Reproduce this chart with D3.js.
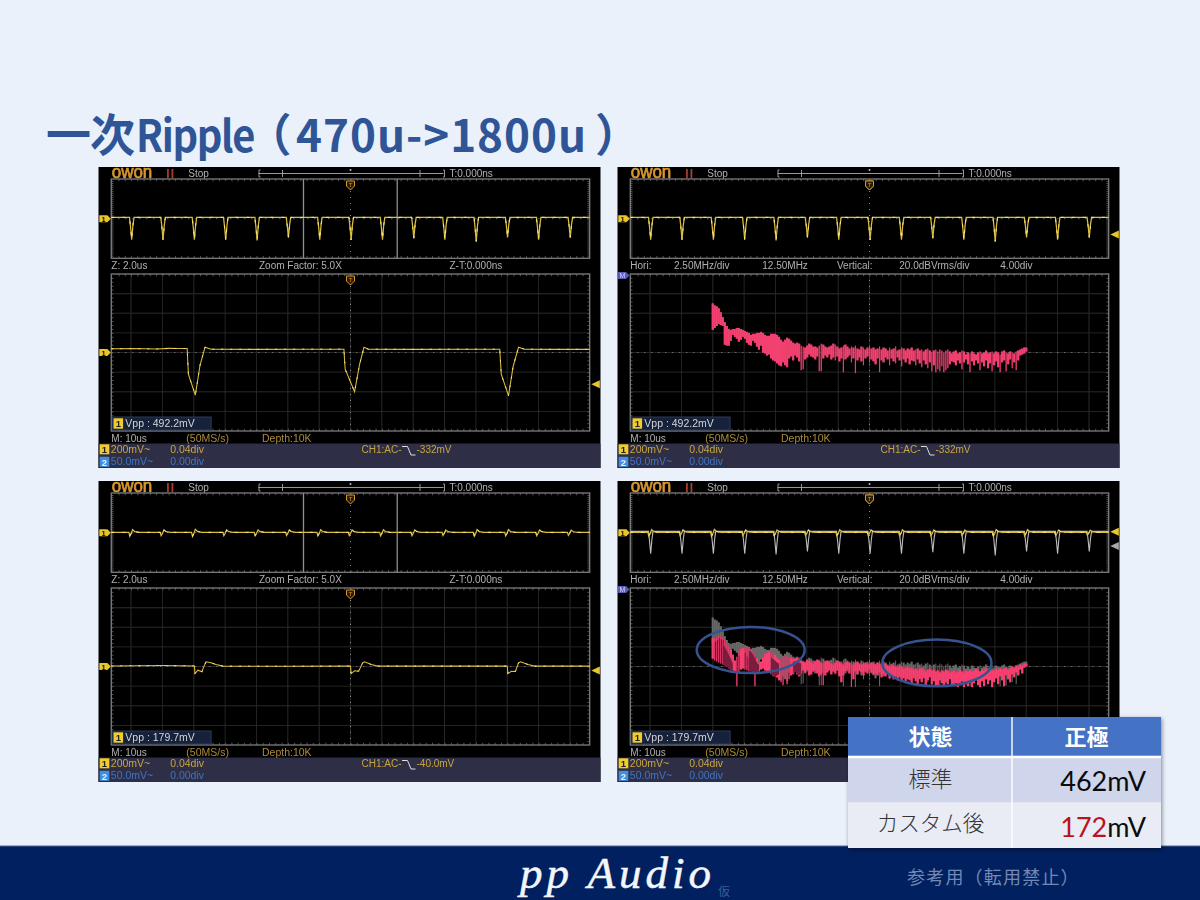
<!DOCTYPE html>
<html lang="ja">
<head>
<meta charset="utf-8">
<title>一次Ripple（470u->1800u）</title>
<script src="https://cdn.jsdelivr.net/npm/d3@7/dist/d3.min.js"></script>
<style>
html,body{margin:0;padding:0;background:#eaf1fb;overflow:hidden}
svg{display:block}
text{font-family:"Liberation Sans",Arial,sans-serif}
.cjk{font-family:"Noto Sans CJK JP",sans-serif}
</style>
</head>
<body>
<svg id="chart" width="1200" height="900" viewBox="0 0 1200 900"></svg>
<script>
// ---- Overview traces (time in div from screen centre, depth in div) ----
const overviewPulseT = [-6.98,-5.98,-4.98,-3.98,-2.98,-1.98,-0.98,0.02,1.02,2.02,3.01,4.01,5.01,6.0,7.01];
const overviewDepthBefore = [-2.13,-2.13,-2.13,-2.13,-2.2,-1.9,-2.13,-2.13,-2.13,-1.97,-2.13,-2.3,-1.9,-2.13,-1.9];
const overviewBlipDip = [-0.35,-0.3,-0.38,-0.3,-0.3,-0.28,-0.32,-0.28,-0.32,-0.3,-0.28,-0.35,-0.33,-0.3,-0.27];
const overviewBaseBefore = 0.13;
const overviewBaseAfter = 0.03;
const pulseShapeDt = [-0.07,-0.035,0,0.04,0.075];
const pulseShapeFrac = [0,0.45,1,0.35,0];
const blipShapeDt = [-0.09,-0.06,-0.02,0.03,0.1,0.24];
const blipShapeFrac = [0,1,0.35,-0.75,-0.2,0];

// ---- Zoomed time traces (time div, level div) ----
const zoomBeforeT = [-7.63,-6.9,-6.2,-5.8,-5.5,-5.21,-5.17,-4.95,-4.80,-4.64,-4.45,-3,-1.5,-0.21,-0.17,0.13,0.29,0.43,0.57,2,4,4.76,4.81,5.04,5.19,5.36,5.55,6.5,7.63];
const zoomBeforeV = [0.19,0.2,0.18,0.21,0.2,0.2,-1.12,-2.17,-0.65,0.27,0.17,0.16,0.17,0.17,-0.85,-2.0,-0.6,0.27,0.17,0.16,0.17,0.17,-1.12,-2.2,-0.7,0.27,0.17,0.16,0.16];
const zoomAfterT = [-7.63,-6,-4.98,-4.96,-4.87,-4.74,-4.68,-4.61,-4.45,-4.29,-4.07,-2,0,0.02,0.13,0.26,0.39,0.45,0.66,0.87,3,5,5.02,5.13,5.26,5.36,5.43,5.66,5.87,7.63];
const zoomAfterV = [0.03,0.05,0.03,-0.36,-0.19,-0.27,-0.02,0.24,0.19,0.1,0.02,0.01,0.02,-0.36,-0.22,-0.24,0.19,0.24,0.1,0.02,0.02,0.02,-0.36,-0.24,-0.25,0.19,0.24,0.1,0.02,0.02];

// ---- FFT traces, 0..25 MHz, upper and lower edge in dB from the centre line ----
const specBeforeHi = [50,48,47,45,41,36,31,27,24,23,
24,24,25,25,24,23,22,21,20,18,
19,19,20,20,21,20,18,17,17,19,
19,19,18,16,13,11,13,15,14,12,
10,9,10,9,7,6,5,7,9,8,
6,6,5,7,9,8,6,5,6,7,
9,8,6,4,5,7,8,6,4,6,
5,7,4,3,6,5,3,5,7,4,
5,3,4,6,3,5,4,2,5,3,
4,6,2,3,5,4,2,4,3,5,
2,3,4,2,3,1,3,4,2,0,
2,3,1,3,2,0,2,3,1,-1,
1,2,-1,0,2,1,-2,0,-1,1,
-1,-2,0,1,-1,0,2,-1,0,1,
-1,1,0,-2,1,2,0,-1,1,0,
-1,1,2,3,4,5,5];
const specBeforeLo = [23,25,27,29,28,27,8,7,7,12,
18,16,14,11,13,16,14,10,8,7,
12,10,6,3,7,0,-1,-3,-2,-6,
-8,-9,-11,-13,-14,-10,-13,-15,-6,-4,
-8,-3,-5,-9,-18,-17,-7,-5,-2,-4,
-5,-7,-4,-19,-19,-6,-3,-5,-2,-7,
-5,-8,-4,-9,-6,-20,-7,-5,-3,-10,
-6,-21,-8,-5,-9,-13,-6,-4,-10,-7,
-9,-12,-6,-20,-8,-10,-5,-7,-13,-6,
-9,-11,-5,-8,-14,-7,-10,-6,-12,-8,
-9,-13,-7,-11,-15,-8,-12,-16,-10,-19,
-13,-20,-17,-19,-14,-20,-18,-16,-12,-9,
-10,-13,-8,-11,-17,-10,-7,-12,-20,-9,
-13,-8,-11,-18,-10,-14,-8,-16,-11,-19,
-13,-9,-15,-20,-10,-8,-19,-12,-7,-16,
-10,-18,-8,-3,-2,-1,1];
const specAfterHi = [29,29,30,31,31,30,27,24,21,17,
12,6,10,16,18,19,20,20,20,18,
16,13,9,4,5,9,13,14,15,15,
14,12,9,7,8,10,11,11,10,9,
8,8,9,8,6,5,4,7,6,5,
3,5,7,6,4,3,5,6,5,3,
2,4,6,5,3,2,4,5,4,3,
2,4,5,3,2,3,4,2,3,4,
3,2,4,3,1,2,3,1,0,2,
1,0,-1,1,0,-2,-1,0,-2,-1,
-3,-2,-4,-2,-1,-3,-5,-3,-2,-4,
-3,-5,-4,-6,-4,-5,-3,-4,-6,-5,
-4,-6,-5,-3,-5,-6,-4,-5,-3,-5,
-4,-2,-4,-5,-3,-4,-2,-3,-5,-3,
-4,-2,-3,-1,-3,-2,-1,-3,-2,0,
-1,1,0,2,1,3,3];
const specAfterLo = [8,6,5,4,3,2,1,0,-2,-3,
-4,-5,-20,-6,-3,-2,-3,-4,-5,-4,
-6,-20,-7,-5,-3,-2,-4,-5,-6,-8,
-10,-9,-11,-14,-16,-19,-12,-18,-13,-9,
-7,-5,-8,-10,-7,-4,-6,-3,-9,-8,
-5,-4,-7,-10,-8,-19,-9,-6,-4,-8,
-5,-7,-4,-10,-16,-9,-5,-3,-7,-21,
-13,-5,-8,-4,-6,-9,-5,-7,-3,-6,
-8,-7,-9,-6,-11,-8,-10,-7,-12,-9,
-13,-10,-14,-11,-15,-12,-16,-13,-14,-17,
-12,-15,-18,-13,-16,-12,-19,-14,-11,-18,
-15,-19,-20,-14,-17,-20,-16,-18,-13,-19,
-20,-17,-21,-19,-15,-21,-18,-20,-16,-21,
-17,-14,-19,-21,-15,-20,-13,-18,-14,-21,
-16,-12,-18,-10,-14,-20,-9,-13,-16,-8,
-11,-6,-9,-3,-7,-1,0];
// darker overlapping sweeps inside the humps (index into the FFT arrays, upper, lower)
const shadeIndex = [5,6,7,8,9,10,null,18,19,20,21,22,23,null,29,30,31,32,33,null,40,41,42,43,44];
const shadeHi = [22,20,16,12,8,3,null,16,15,12,8,4,2,null,9,8,6,4,3,null,5,5,5,4,3];
const shadeLo = [2,1,0,-2,-3,-4,null,-4,-5,-6,-8,-7,-5,null,-8,-9,-11,-9,-8,null,-7,-5,-8,-9,-7];

// ---- Annotation ellipses on the lower-right FFT (div, dB) ----
const ringCx = [-3.79,2.15];
const ringCy = [16.8,3.6];
const ringRx = [1.72,1.74];
const ringRy = [23.5,23.8];

// ---- Table ----
const tableHead = ["状態","正極"];
const tableRows = ["標準","カスタム後"];
const tableValues = ["462","172"];
const tableUnit = "mV";

// ---- Scope read-outs ----
const vppLabels = ["492.2mV","492.2mV","179.7mV","179.7mV"];
const triggerLabels = ["-332mV","-332mV","-40.0mV","-40.0mV"];

const svg = d3.select("#chart");
const defs = svg.append("defs");
defs.append("filter").attr("id","soft").attr("x","-2%").attr("y","-2%").attr("width","104%").attr("height","104%")
  .append("feGaussianBlur").attr("stdDeviation",0.38);
const sh = defs.append("filter").attr("id","shadow").attr("x","-5%").attr("y","-5%").attr("width","110%").attr("height","112%");
sh.append("feDropShadow").attr("dx",1).attr("dy",1.5).attr("stdDeviation",2).attr("flood-color","#000").attr("flood-opacity",0.45);

svg.append("rect").attr("width",1200).attr("height",900).attr("fill","#eaf1fb");
svg.append("rect").attr("y",846).attr("width",1200).attr("height",54).attr("fill","#01205f");
svg.append("line").attr("x1",0).attr("x2",1200).attr("y1",846).attr("y2",846).attr("stroke","#55688f").attr("stroke-width",1);

// ---- Title ----
const title = svg.append("text").attr("y",152).attr("fill","#2f5597").attr("font-weight",700)
  .attr("class","cjk").attr("font-size",45);
title.append("tspan").attr("x",46).attr("letter-spacing",-1).text("一次");
title.append("tspan").attr("x",136).attr("font-size",44).attr("letter-spacing",-1.5).attr("textLength",118).attr("lengthAdjust","spacingAndGlyphs").text("Ripple");
title.append("tspan").attr("x",267).style("font-feature-settings","'palt'").text("（");
title.append("tspan").attr("x",296).attr("font-size",44).attr("letter-spacing",1).text("470u->1800u");
title.append("tspan").attr("x",597).style("font-feature-settings","'palt'").text("）");

// ---- Scope geometry ----
const W = 502, H = 301, PL = 12.8, PW = 478.4;
const TOPY = 12, TOPH = 79.3, BOTY = 107, BOTH = 157;
const xDiv = d3.scaleLinear().domain([-7.63,7.63]).range([PL,PL+PW]);
const yTop = d3.scaleLinear().domain([-4,4]).range([TOPY+TOPH,TOPY]);
const yBot = d3.scaleLinear().domain([-4,4]).range([BOTY+BOTH,BOTY]);
const yDb = d3.scaleLinear().domain([-80,80]).range([BOTY+BOTH,BOTY]);
const freqToDiv = d3.scaleLinear().domain([0,25]).range([-5,5]);
const xHz = v => xDiv(freqToDiv(v));
const iToHz = d3.scaleLinear().domain([0,specBeforeHi.length-1]).range([0,25]);

const YEL="#dcbc3e", GREY="#b0b0b0", GOLD="#a88a3a", ORANGE="#d9962d";

function overview(depths, base, shapeDt, shapeFrac){
  const pts = [[-7.63,base]];
  overviewPulseT.forEach((t,k)=>{
    shapeDt.forEach((d,j)=>pts.push([t+d, base+(depths[k]-base)*shapeFrac[j]]));
  });
  pts.push([7.63,base]);
  return pts;
}
const lineTop = d3.line().x(d=>xDiv(d[0])).y(d=>yTop(d[1]));
const lineBot = d3.line().x(d=>xDiv(d[0])).y(d=>yBot(d[1]));

function ticks(g, y, orient, scale, values, size){
  const ax = orient(scale).tickValues(values).tickSize(size).tickFormat("");
  const a = g.append("g").attr("transform",`translate(0,${y})`).call(ax);
  a.select(".domain").remove();
  a.selectAll("line").attr("stroke","#6a6a6a").attr("stroke-width",0.8);
}
function ticksV(g, x, orient, scale, values, size){
  const ax = orient(scale).tickValues(values).tickSize(size).tickFormat("");
  const a = g.append("g").attr("transform",`translate(${x},0)`).call(ax);
  a.select(".domain").remove();
  a.selectAll("line").attr("stroke","#6a6a6a").attr("stroke-width",0.8);
}
const minorX = d3.range(-38,39).map(d=>d/5);
const minorY = d3.range(-20,21).map(d=>d/5);
const majorX = d3.range(-7,8);
const majorY = d3.range(-3,4);

function plotFrame(g, y0, h, yScale, grid){
  g.append("rect").attr("x",PL).attr("y",y0).attr("width",PW).attr("height",h).attr("fill","#030303");
  if(grid){
    g.selectAll(null).data(majorX).join("line").attr("x1",d=>xDiv(d)).attr("x2",d=>xDiv(d)).attr("y1",y0).attr("y2",y0+h)
      .attr("stroke","#2b2b2b").attr("stroke-width",0.9);
    g.selectAll(null).data(majorY).join("line").attr("x1",PL).attr("x2",PL+PW).attr("y1",d=>yScale(d)).attr("y2",d=>yScale(d))
      .attr("stroke","#2b2b2b").attr("stroke-width",0.9);
  }
  g.append("line").attr("x1",xDiv(0)).attr("x2",xDiv(0)).attr("y1",y0).attr("y2",y0+h)
    .attr("stroke","#8a8a8a").attr("stroke-width",1).attr("stroke-dasharray","1 5");
  g.append("line").attr("x1",PL).attr("x2",PL+PW).attr("y1",yScale(0)).attr("y2",yScale(0))
    .attr("stroke","#8a8a8a").attr("stroke-width",1).attr("stroke-dasharray","1 6");
  const yv = minorY.filter(v=>yScale(v)>y0 && yScale(v)<y0+h);
  ticks(g,y0,d3.axisBottom,xDiv,minorX.filter(v=>Math.abs(v)<7.6),2.2);
  ticks(g,y0+h,d3.axisTop,xDiv,minorX.filter(v=>Math.abs(v)<7.6),2.2);
  ticksV(g,PL,d3.axisRight,yScale,yv,2.2);
  ticksV(g,PL+PW,d3.axisLeft,yScale,yv,2.2);
  g.append("rect").attr("x",PL).attr("y",y0).attr("width",PW).attr("height",h).attr("fill","none")
    .attr("stroke","#7c7c7c").attr("stroke-width",1.3);
}
function txt(g,x,y,s,fill,size,anchor){
  return g.append("text").attr("x",x).attr("y",y).attr("fill",fill).attr("font-size",size||10)
    .attr("text-anchor",anchor||"start").text(s);
}
function trigMark(g,y){
  const cx = xDiv(0);
  g.append("path").attr("transform",`translate(${cx},${y})`)
    .attr("d","M-4,0H4V5L0,9L-4,5Z").attr("fill","#2a1a04").attr("stroke",ORANGE).attr("stroke-width",1);
  g.append("text").attr("x",cx).attr("y",y+6).attr("text-anchor","middle").attr("font-size",6).attr("fill",ORANGE).text("T");
}
function chanMark(g,y){
  g.append("path").attr("transform",`translate(0.8,${y})`)
    .attr("d","M0,-3.5H8L11.5,0L8,3.5H0Z").attr("fill","#e8c52c");
  g.append("text").attr("x",5).attr("y",y+3).attr("text-anchor","middle").attr("font-size",7.5).attr("font-weight",700).attr("fill","#111").text("1");
}
function rightArrow(g,y,fill){
  g.append("path").attr("transform",`translate(${PL+PW+1.6},${y})`)
    .attr("d","M0,0L8.5,-4V4Z").attr("fill",fill);
}
function columns(g, hi, lo, color, width){
  g.append("g").selectAll("line").data(d3.range(hi.length)).join("line")
    .attr("x1",i=>xHz(iToHz(i))).attr("x2",i=>xHz(iToHz(i)))
    .attr("y1",i=>yDb(hi[i])).attr("y2",i=>yDb(lo[i]))
    .attr("stroke",color).attr("stroke-width",typeof width==="function"?width:()=>width);
}
// deep notches are thin sweeps; shallow columns and the low-frequency part merge into a solid band
const stripe = (hi,lo,limit,solidUntil,thin,wide) => i => (i>=solidUntil && hi[i]-lo[i] > limit ? thin : wide);

function drawScope(idx, ox, oy, kind){
  const g = svg.append("g").attr("transform",`translate(${ox},${oy})`).attr("filter","url(#soft)");
  g.append("rect").attr("width",W).attr("height",H).attr("fill","#030303");
  // status bar
  g.append("rect").attr("y",276.5).attr("width",W).attr("height",H-276.5).attr("fill","#2e2f47");

  // header
  g.append("text").attr("x",PL+0.5).attr("y",11.2).attr("fill",ORANGE).attr("stroke",ORANGE).attr("stroke-width",0.7)
    .attr("font-size",17.5).attr("textLength",40.5).attr("lengthAdjust","spacingAndGlyphs").text("owon");
  txt(g,PL+55,10.8,"II","#b23a2a",12).attr("font-weight",700).attr("letter-spacing",1.2);
  txt(g,PL+77,10,"Stop",GREY,10);
  g.append("path").attr("d",`M160.5,3V10M160.5,3H162M160.5,10H162M160,6.5H345M184,3V10M321.5,3V10M346,3V10M346,3H344.5M346,10H344.5`)
    .attr("fill","none").attr("stroke","#a8a8a8").attr("stroke-width",0.9);
  g.append("circle").attr("cx",xDiv(0)).attr("cy",3).attr("r",1).attr("fill","#bbb");
  txt(g,351,10,"T:0.000ns",GREY,10);

  // overview
  plotFrame(g,TOPY,TOPH,yTop,false);
  trigMark(g,TOPY+2);
  chanMark(g,yTop(0));

  // label row
  if(kind==="time"){
    txt(g,PL,102.3,"Z: 2.0us",GREY,10);
    txt(g,160.5,102.3,"Zoom  Factor: 5.0X",GREY,10);
    txt(g,351,102.3,"Z-T:0.000ns",GREY,10);
  }else{
    txt(g,PL,102.3,"Hori:",GREY,10);
    txt(g,PL+43.7,102.3,"2.50MHz/div",GREY,10);
    txt(g,PL+132,102.3,"12.50MHz",GREY,10);
    txt(g,PL+206.7,102.3,"Vertical:",GREY,10);
    txt(g,PL+269,102.3,"20.0dBVrms/div",GREY,10);
    txt(g,PL+370,102.3,"4.00div",GREY,10);
  }

  // lower plot
  plotFrame(g,BOTY,BOTH,yBot,true);

  const after = idx>=2;
  if(kind==="time"){
    g.selectAll(null).data([-1.5,1.49]).join("line")
      .attr("x1",d=>xDiv(d)).attr("x2",d=>xDiv(d)).attr("y1",TOPY).attr("y2",TOPY+TOPH)
      .attr("stroke","#8f8f8f").attr("stroke-width",1.3);
    trigMark(g,BOTY+2);
    chanMark(g,yBot(0));
    rightArrow(g,after?yBot(-0.2):yBot(-1.62),"#e8c52c");
    const zT = after?zoomAfterT:zoomBeforeT, zV = after?zoomAfterV:zoomBeforeV;
    const zp = zT.map((t,i)=>[t,zV[i]]);
    g.append("path").attr("d",lineBot(zp)).attr("fill","none").attr("stroke",YEL).attr("stroke-width",1.05);
    g.append("path").attr("d",lineBot(zp)).attr("fill","none").attr("stroke","#f6e47a").attr("stroke-width",1).attr("stroke-dasharray","2 7");
  }else{
    g.append("path").attr("transform",`translate(0.5,${BOTY+1.5})`).attr("d","M0,-3.5H8L11.5,0L8,3.5H0Z").attr("fill","#5a58b8");
    g.append("text").attr("x",4.8).attr("y",BOTY+4).attr("text-anchor","middle").attr("font-size",7).attr("fill","#dcdcf5").text("M");
    trigMark(g,TOPY+2);
    if(after){
      columns(g,specBeforeHi,specBeforeLo,"#696969",stripe(specBeforeHi,specBeforeLo,15,44,1,2.1));
      columns(g,specAfterHi,specAfterLo,"#b82a55",stripe(specAfterHi,specAfterLo,21,0,1.1,2.1));
      columns(g,specAfterHi,specAfterLo,"#f73f70",stripe(specAfterHi,specAfterLo,21,0,0.9,2.1));
      const sd = d3.range(shadeIndex.length);
      g.append("path").attr("d",d3.area().defined(k=>shadeIndex[k]!==null).curve(d3.curveMonotoneX)
          .x(k=>xHz(iToHz(shadeIndex[k]))).y0(k=>yDb(shadeLo[k])).y1(k=>yDb(shadeHi[k]))(sd))
        .attr("fill","#7a1f3e");
      g.append("g").selectAll("ellipse").data(d3.range(ringCx.length)).join("ellipse")
        .attr("cx",k=>xDiv(ringCx[k])).attr("cy",k=>yDb(ringCy[k]))
        .attr("rx",k=>xDiv(ringRx[k])-xDiv(0)).attr("ry",k=>yDb(0)-yDb(ringRy[k]))
        .attr("fill","none").attr("stroke","#35538f").attr("stroke-width",2.5);
    }else{
      columns(g,specBeforeHi,specBeforeLo,"#a62d55",stripe(specBeforeHi,specBeforeLo,15,44,1.2,2.1));
      columns(g,specBeforeHi,specBeforeLo,"#f2406f",stripe(specBeforeHi,specBeforeLo,15,44,0.9,2.1));
    }
  }

  // overview trace(s)
  if(idx===3){
    g.append("path").attr("d",lineTop(overview(overviewDepthBefore,overviewBaseBefore,pulseShapeDt,pulseShapeFrac)))
      .attr("fill","none").attr("stroke","#bdbdbd").attr("stroke-width",1.1);
    rightArrow(g,yTop(0.1),"#e8c52c");
    rightArrow(g,yTop(-1.35),"#a8a8a8");
  }else if(idx===1){
    rightArrow(g,yTop(-1.6),"#e8c52c");
  }
  const oPts = after
    ? overview(overviewBlipDip,overviewBaseAfter,blipShapeDt,blipShapeFrac)
    : overview(overviewDepthBefore,overviewBaseBefore,pulseShapeDt,pulseShapeFrac);
  g.append("path").attr("d",lineTop(oPts)).attr("fill","none").attr("stroke",YEL).attr("stroke-width",1.25);
  g.append("path").attr("d",lineTop(oPts)).attr("fill","none").attr("stroke","#f7e98a").attr("stroke-width",1).attr("stroke-dasharray","3 8");

  // Vpp box
  g.append("rect").attr("x",PL+0.8).attr("y",250).attr("width",99).attr("height",13)
    .attr("fill","#13203a").attr("stroke","#33466b").attr("stroke-width",0.8);
  g.append("rect").attr("x",PL+2.2).attr("y",251.3).attr("width",9.6).attr("height",10.4).attr("fill","#f0cc2e");
  g.append("text").attr("x",PL+7).attr("y",260).attr("text-anchor","middle").attr("font-size",9.5).attr("font-weight",700).attr("fill","#222").text("1");
  txt(g,PL+14,260.2,"Vpp : "+vppLabels[idx],"#d6d6d6",10.5);

  // lower info row
  txt(g,PL,275,"M: 10us",GREY,10);
  txt(g,PL+75,275,"(50MS/s)",GOLD,10.5);
  txt(g,PL+150.7,275,"Depth:10K",GOLD,10.5);

  // status bar
  g.append("rect").attr("x",1.2).attr("y",277.3).attr("width",9.6).attr("height",10).attr("fill","#f0cc2e");
  g.append("text").attr("x",6).attr("y",286).attr("text-anchor","middle").attr("font-size",9.5).attr("font-weight",700).attr("fill","#222").text("1");
  g.append("rect").attr("x",1.2).attr("y",289.8).attr("width",9.6).attr("height",10).attr("fill","#3f8fe0");
  g.append("text").attr("x",6).attr("y",298.5).attr("text-anchor","middle").attr("font-size",9.5).attr("font-weight",700).attr("fill","#e8f2ff").text("2");
  txt(g,12.3,285.8,"200mV~","#c9a541",10.5);
  txt(g,71.7,285.8,"0.04div","#c9a541",10.5);
  txt(g,12.3,298.3,"50.0mV~","#3f74c4",10.5);
  txt(g,71.7,298.3,"0.00div","#3f74c4",10.5);
  if(idx!==3){ // the lower-right scope's trigger read-out lies under the table
    txt(g,263,285.8,"CH1:AC-","#c9a541",10);
    g.append("path").attr("d","M303.5,279.5H309L312.5,288H317").attr("fill","none").attr("stroke","#ddd").attr("stroke-width",1);
    txt(g,318,285.8,triggerLabels[idx],"#c9a541",10);
  }
}

drawScope(0,98.5,167,"time");
drawScope(1,617.5,167,"fft");
drawScope(2,98.5,481,"time");
drawScope(3,617.5,481,"fft");

// ---- Table ----
const tbl = svg.append("g");
const colX = [848,1012,1161];
const rowY = [717,757,802,848];
const rowFill = ["#4472c4","#cfd5ea","#e9ebf5"];
tbl.append("rect").attr("x",colX[0]).attr("y",rowY[0]).attr("width",colX[2]-colX[0]).attr("height",rowY[3]-rowY[0])
  .attr("fill","#fff").attr("filter","url(#shadow)");
rowFill.forEach((f,r)=>{
  [0,1].forEach(c=>{
    tbl.append("rect").attr("x",colX[c]+(c?0.7:0)).attr("y",rowY[r]+(r===1?1.2:r?0.6:0))
      .attr("width",colX[c+1]-colX[c]-0.7).attr("height",rowY[r+1]-rowY[r]-(r===0?1.3:0.6))
      .attr("fill",f);
  });
});
const cx0 = (colX[0]+colX[1])/2 + 0.5;
const cx1 = (colX[1]+colX[2])/2;
tbl.selectAll(null).data(tableHead).join("text").attr("class","cjk")
  .attr("x",(d,i)=>i?cx1:cx0).attr("y",745).attr("text-anchor","middle")
  .attr("font-size",22).attr("font-weight",700).attr("fill","#fff").text(d=>d);
tbl.selectAll(null).data(tableRows).join("text").attr("class","cjk")
  .attr("x",cx0).attr("y",(d,i)=>i?831:787).attr("text-anchor","middle")
  .attr("font-size",(d,i)=>i?21.5:22).attr("font-weight",300).attr("fill","#333").text(d=>d);
tableValues.forEach((v,i)=>{
  const t = tbl.append("text").attr("x",1146).attr("y",i?836.5:791).attr("text-anchor","end")
    .attr("font-size",27).attr("fill","#0b0b0b").style("font-family","Lato, sans-serif");
  t.append("tspan").attr("fill",i?"#b8141c":"#0b0b0b").text(v);
  t.append("tspan").text(tableUnit);
});

// ---- Footer ----
svg.append("text").attr("x",520).attr("y",888).attr("fill","#f3f6fb").attr("stroke","#f3f6fb").attr("stroke-width",0.5).attr("font-size",45)
  .attr("font-style","italic").style("font-family","'Liberation Serif',serif").attr("letter-spacing",4).text("pp Audio");
svg.append("text").attr("class","cjk").attr("x",718).attr("y",896).attr("fill","#3d5c93").attr("font-size",12).text("仮");
svg.append("text").attr("class","cjk").attr("x",907).attr("y",884).attr("fill","#7488b4").attr("font-size",18).attr("letter-spacing",1.2).text("参考用（転用禁止）");
</script>
</body>
</html>
